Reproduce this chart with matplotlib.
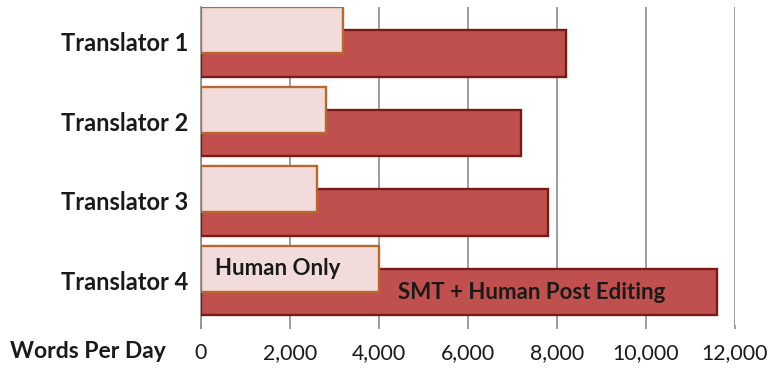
import matplotlib
matplotlib.use("Agg")
import matplotlib.pyplot as plt
import matplotlib.transforms as mtransforms

# Words translated per day, per translator
translators = ["Translator 1", "Translator 2", "Translator 3", "Translator 4"]
human_only = [3200, 2800, 2600, 4000]
smt_post_edit = [8200, 7200, 7800, 11600]
x_ticks = [0, 2000, 4000, 6000, 8000, 10000, 12000]
x_tick_labels = ["0", "2,000", "4,000", "6,000", "8,000", "10,000", "12,000"]

plt.rcParams["font.family"] = ["Lato", "DejaVu Sans"]

W, H = 778, 368
fig = plt.figure(figsize=(W / 100, H / 100), dpi=100)
ax = fig.add_axes([201 / W, 1 - 325 / H, (735 - 201) / W, 318 / H])

pos = list(range(len(translators)))
bar_h = 0.58
smt_y = [p + 0.085 for p in pos]
hum_y = [p - 0.21 for p in pos]

ax.barh(smt_y, smt_post_edit, height=bar_h, color="#C0504D",
        edgecolor="#7A1A17", linewidth=1.7, zorder=2)
ax.barh(hum_y, human_only, height=bar_h, color="#F2DCDB",
        edgecolor="#B9682B", linewidth=1.7, zorder=3)

ax.set_xlim(0, 12000)
ax.set_ylim(3.5, -0.5)

ax.set_xticks(x_ticks)
ax.set_xticklabels(x_tick_labels, fontsize=15.3, color="#1a1a1a")
ax.tick_params(axis="x", length=3, width=1.2, color="#8c8c8c", pad=10)
ax.xaxis.grid(True, color="#8c8c8c", linewidth=1.2, zorder=0)
ax.set_axisbelow(True)

ax.set_yticks(pos)
ax.set_yticklabels(translators, fontsize=17, fontweight="bold", color="#1a1a1a")
ax.tick_params(axis="y", length=0, pad=9)
shift = mtransforms.ScaledTranslation(0, 5 / 100, fig.dpi_scale_trans)
for lab in ax.get_yticklabels():
    lab.set_transform(lab.get_transform() + shift)

for side in ["top", "right", "bottom"]:
    ax.spines[side].set_visible(False)
ax.spines["left"].set_color("#8c8c8c")
ax.spines["left"].set_linewidth(1.2)
ax.spines["left"].set_bounds(3.5 + 0.04, -0.5)
ax.spines["left"].set_zorder(1)

# series labels placed inside the last pair of bars
ax.annotate("Human Only", xy=(0, hum_y[3]), xytext=(14, 0),
            textcoords="offset pixels", ha="left", va="center",
            fontsize=16, fontweight="bold", color="#1a1a1a", zorder=4)
ax.annotate("SMT + Human Post Editing", xy=(smt_post_edit[3], smt_y[3]),
            xytext=(-52, 0), textcoords="offset pixels", ha="right",
            va="center", fontsize=16, fontweight="bold", color="#1a1a1a",
            zorder=4)

fig.text(10 / W, 1 - 352 / H, "Words Per Day", ha="left", va="center",
         fontsize=16.5, fontweight="bold", color="#1a1a1a")

fig.savefig("out.png", dpi=100, facecolor="white")
